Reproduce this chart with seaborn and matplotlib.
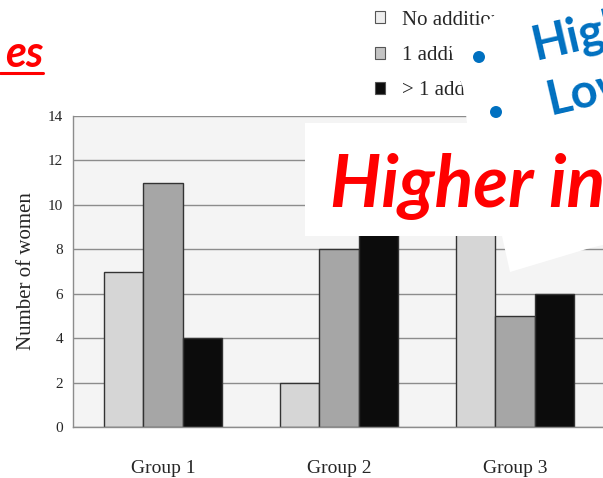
import pandas as pd
import matplotlib
matplotlib.use("Agg")
import matplotlib.pyplot as plt
import seaborn as sns
from matplotlib.patches import Patch, Polygon, Ellipse
from matplotlib.lines import Line2D

# Data
groups = ["Group 1", "Group 2", "Group 3"]
no_additional = [7, 2, 11]
one_additional = [11, 8, 5]
more_additional = [4, 12, 6]
series_labels = ["No additional", "1 additional", "> 1 additional"]
bar_colors = ["#d6d6d6", "#a6a6a6", "#0c0c0c"]

df = pd.DataFrame({
    "group": groups * 3,
    "series": [s for s in series_labels for _ in groups],
    "count": no_additional + one_additional + more_additional,
})

sns.set_style("white")
plt.rcParams["font.family"] = ["Liberation Serif", "DejaVu Serif"]

W, H = 603, 478


def fx(x):
    return x / W


def fy(y):
    return 1 - y / H


fig = plt.figure(figsize=(W / 100, H / 100), dpi=100)
ax = fig.add_axes([fx(73), fy(427), 1 - fx(73), (427 - 116) / H])
ax.set_facecolor("#f4f4f4")
ax.set_axisbelow(True)

sns.barplot(data=df, x="group", y="count", hue="series", palette=bar_colors,
            width=0.667, edgecolor="#333333", linewidth=1.0, saturation=1,
            legend=False, ax=ax)

ax.set_xlim(-0.511, 2.5)
ax.set_ylim(0, 14)
ax.set_yticks(range(0, 15, 2))
ax.yaxis.grid(True, color="#8c8c8c", linewidth=1.0)
ax.tick_params(axis="y", length=4, width=1, color="#8c8c8c", pad=3, labelsize=11)
ax.tick_params(axis="x", length=0, pad=24, labelsize=14)
ax.set_xlabel("")
ax.set_ylabel("Number of women", fontsize=15, labelpad=9)
for side in ["top", "right"]:
    ax.spines[side].set_visible(False)
for side in ["left", "bottom"]:
    ax.spines[side].set_color("#8c8c8c")
    ax.spines[side].set_linewidth(1.0)

# legend above the plot
handles = [Patch(facecolor=c, edgecolor="#555555", linewidth=0.8, label=l)
           for c, l in zip(["#eeeeee", "#c4c4c4", "#0c0c0c"], series_labels)]
fig.legend(handles=handles, loc="upper left", bbox_to_anchor=(fx(356), fy(-8)),
           frameon=False, fontsize=15, handlelength=0.5, handleheight=0.5,
           handletextpad=0.8, labelspacing=0.78)

# slide overlays
white_box = [(305, 123), (467, 123), (463, 88), (450, 48), (515, 0), (603, 0),
             (603, 245), (590, 248), (510, 272), (502, 236), (305, 236)]
fig.add_artist(Polygon([(fx(x), fy(y)) for x, y in white_box], closed=True,
                       facecolor="white", edgecolor="none",
                       transform=fig.transFigure, zorder=10))

sans = ["Lato", "DejaVu Sans"]
fig.text(fx(330), fy(207), "Higher in", color="#ff0000", fontsize=51.5,
         fontweight="bold", fontstyle="italic", family=sans,
         va="baseline", ha="left", zorder=11)
fig.text(fx(535), fy(60), "Higher", color="#0070c0", fontsize=34,
         fontweight="bold", family=sans, rotation=13, rotation_mode="anchor",
         va="baseline", ha="left", zorder=11)
fig.text(fx(550), fy(115), "Lower", color="#0070c0", fontsize=34,
         fontweight="bold", family=sans, rotation=13, rotation_mode="anchor",
         va="baseline", ha="left", zorder=11)
for bx, by in [(479, 57), (496, 112)]:
    fig.add_artist(Ellipse((fx(bx), fy(by)), 12 / W, 12 / H, facecolor="#0070c0",
                           edgecolor="none", transform=fig.transFigure, zorder=11))

fig.text(fx(43), fy(67), "es", color="#ff0000", fontsize=31, fontweight="bold",
         fontstyle="italic", family=sans, va="baseline", ha="right", zorder=11)
fig.add_artist(Line2D([0, fx(43)], [fy(73), fy(73)], color="#ff0000", linewidth=2.2,
                      transform=fig.transFigure, zorder=11))

fig.savefig("out.png", dpi=100)
